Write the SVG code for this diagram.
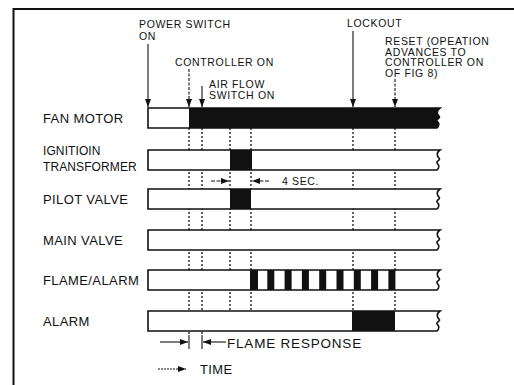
<svg xmlns="http://www.w3.org/2000/svg" width="514" height="385" viewBox="0 0 514 385">
<style>
text{font-family:"Liberation Sans",Arial,sans-serif;fill:#111}
.lbl{font-size:13px;letter-spacing:0.4px}
.sm{font-size:12px;letter-spacing:0.1px}
.top{font-size:10.5px;letter-spacing:0.65px}
.bar{fill:#fff;stroke:#111;stroke-width:1.6}
.blk{fill:#111}
.dot{stroke:#111;stroke-width:1.3;stroke-dasharray:2 2;fill:none}
.ln{stroke:#111;stroke-width:1.1;fill:none}
.frame{stroke:#111;stroke-width:2;fill:none}
</style>
<defs>
<marker id="ah" viewBox="0 0 8 6" refX="8" refY="3" markerWidth="8" markerHeight="6" markerUnits="userSpaceOnUse" orient="auto">
<path d="M0,0 L8,3 L0,6 Z" fill="#111"/>
</marker>
<path id="bar" d="M148,0 H440 C436,3 437,6 439,8 C441,10 436,11 437,13 C439,15 440,17 437,20 H148 Z"/>
<path id="fanfill" d="M189,0 H440 C436,3 437,6 439,8 C441,10 436,11 437,13 C439,15 440,17 437,20 H189 Z"/>
</defs>
<rect width="514" height="385" fill="#fff"/>
<path class="frame" d="M13.5,385 V9 H514"/>

<g id="connectors">
<path class="dot" d="M189,128 V336 M202,128 V336 M230,128 V311 M251,128 V311 M353,128 V311 M395,128 V311"/>
<line class="ln" x1="148" y1="44" x2="148" y2="107" marker-end="url(#ah)"/>
<line class="ln" x1="189" y1="69" x2="189" y2="107" stroke-dasharray="3 1.5" marker-end="url(#ah)"/>
<line class="ln" x1="202" y1="86" x2="202" y2="107" marker-end="url(#ah)"/>
<line class="ln" x1="353" y1="31" x2="353" y2="107" marker-end="url(#ah)"/>
<line class="ln" x1="395" y1="79" x2="395" y2="107" stroke-dasharray="3 1.5" marker-end="url(#ah)"/>
<line class="ln" x1="211" y1="181" x2="229" y2="181" stroke-dasharray="4 1.5" marker-end="url(#ah)"/>
<line class="ln" x1="269" y1="181" x2="252" y2="181" stroke-dasharray="4 1.5" marker-end="url(#ah)"/>
<line class="ln" x1="160" y1="342" x2="188" y2="342" marker-end="url(#ah)"/>
<line class="ln" x1="189" y1="335" x2="189" y2="349"/>
<line class="ln" x1="202" y1="335" x2="202" y2="349"/>
<line class="ln" x1="226" y1="342" x2="203" y2="342" marker-end="url(#ah)"/>
<line class="ln" x1="158" y1="369" x2="186" y2="369" stroke-dasharray="2 1" marker-end="url(#ah)"/>
</g>

<g id="top-labels">
<text class="top" x="139" y="28">POWER SWITCH</text>
<text class="top" x="139" y="40">ON</text>
<text class="top" x="175" y="66">CONTROLLER ON</text>
<text class="top" x="209" y="88">AIR FLOW</text>
<text class="top" x="209" y="99">SWITCH ON</text>
<text class="top" x="347" y="27">LOCKOUT</text>
<text class="top" x="385" y="45">RESET (OPEATION</text>
<text class="top" x="385" y="55.5">ADVANCES TO</text>
<text class="top" x="385" y="66">CONTROLLER ON</text>
<text class="top" x="385" y="76.5">OF FIG 8)</text>
</g>

<g id="fan-motor">
<text class="lbl" x="43" y="123">FAN MOTOR</text>
<use href="#bar" class="bar" transform="translate(0,108)"/>
<use href="#fanfill" class="blk" transform="translate(0,108)"/>
</g>

<g id="ignition-transformer">
<text class="sm" x="43" y="155">IGNITIOIN</text>
<text class="sm" x="43" y="171">TRANSFORMER</text>
<use href="#bar" class="bar" transform="translate(0,150)"/>
<rect class="blk" x="230" y="150" width="22" height="20"/>
<text class="top" x="282" y="185">4 SEC.</text>
</g>

<g id="pilot-valve">
<text class="lbl" x="43" y="204">PILOT VALVE</text>
<use href="#bar" class="bar" transform="translate(0,189)"/>
<rect class="blk" x="230" y="189" width="21" height="20"/>
</g>

<g id="main-valve">
<text class="lbl" x="43" y="245">MAIN VALVE</text>
<use href="#bar" class="bar" transform="translate(0,230)"/>
</g>

<g id="flame-alarm">
<text class="lbl" x="43" y="285">FLAME/ALARM</text>
<use href="#bar" class="bar" transform="translate(0,270)"/>
<g class="blk">
<rect x="250" y="270" width="8" height="20"/>
<rect x="267.3" y="270" width="7" height="20"/>
<rect x="284.6" y="270" width="7" height="20"/>
<rect x="301.9" y="270" width="7" height="20"/>
<rect x="319.2" y="270" width="7" height="20"/>
<rect x="336.5" y="270" width="7" height="20"/>
<rect x="353.8" y="270" width="7" height="20"/>
<rect x="371.1" y="270" width="7" height="20"/>
<rect x="388.4" y="270" width="7" height="20"/>
</g>
</g>

<g id="alarm">
<text class="lbl" x="43" y="326">ALARM</text>
<use href="#bar" class="bar" transform="translate(0,311)"/>
<rect class="blk" x="352" y="311" width="43" height="20"/>
</g>

<g id="legend">
<text class="lbl" x="227" y="348" style="font-size:13.5px;letter-spacing:0.8px">FLAME RESPONSE</text>
<text class="lbl" x="200" y="374">TIME</text>
</g>
</svg>
